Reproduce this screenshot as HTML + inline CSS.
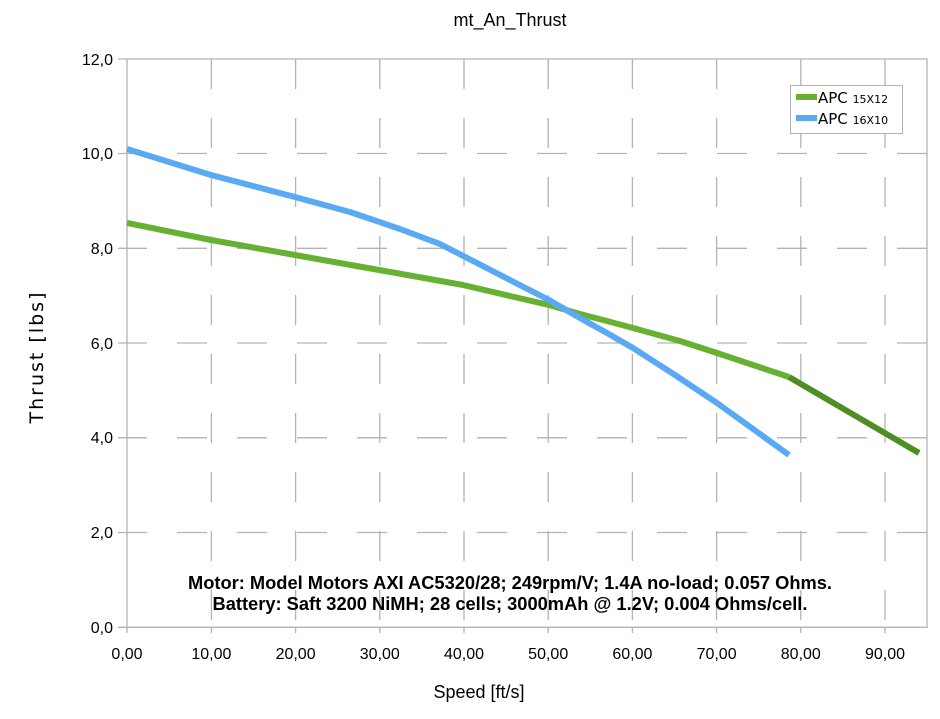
<!DOCTYPE html>
<html><head><style>body{margin:0;background:#fff}</style></head><body>
<svg width="940" height="714" xmlns="http://www.w3.org/2000/svg" font-family="Liberation Sans, sans-serif">
<rect width="940" height="714" fill="#fff"/>
<text x="510" y="26" font-size="18" text-anchor="middle">mt_An_Thrust</text>
<g stroke="#b3b3b3" stroke-width="1.3" fill="none">
<g stroke-dasharray="30 29">
<line x1="211.4" y1="59" x2="211.4" y2="627"/><line x1="295.6" y1="59" x2="295.6" y2="627"/>
<line x1="379.8" y1="59" x2="379.8" y2="627"/><line x1="464" y1="59" x2="464" y2="627"/>
<line x1="548.2" y1="59" x2="548.2" y2="627"/><line x1="632.4" y1="59" x2="632.4" y2="627"/>
<line x1="716.6" y1="59" x2="716.6" y2="627"/><line x1="800.8" y1="59" x2="800.8" y2="627"/>
<line x1="885" y1="59" x2="885" y2="627"/>
</g>
<g stroke-dasharray="30 30" stroke-dashoffset="10">
<line x1="127" y1="153.5" x2="927" y2="153.5"/><line x1="127" y1="248.3" x2="927" y2="248.3"/>
<line x1="127" y1="343" x2="927" y2="343"/><line x1="127" y1="437.8" x2="927" y2="437.8"/>
<line x1="127" y1="532.5" x2="927" y2="532.5"/>
</g>
<path d="M127 59H927V627.3H127Z"/>
<path d="M118 59H127M118 153.5H127M118 248.3H127M118 343H127M118 437.8H127M118 532.5H127M118 627.3H127"/>
<path d="M127 627V633M211.4 627V633M295.6 627V633M379.8 627V633M464 627V633M548.2 627V633M632.4 627V633M716.6 627V633M800.8 627V633M885 627V633"/>
</g>
<g font-size="16" text-anchor="end">
<text x="113" y="65">12,0</text><text x="113" y="159">10,0</text><text x="113" y="254">8,0</text>
<text x="113" y="349">6,0</text><text x="113" y="443">4,0</text><text x="113" y="538">2,0</text><text x="113" y="633">0,0</text>
</g>
<g font-size="16" text-anchor="middle">
<text x="127" y="659">0,00</text><text x="211.4" y="659">10,00</text><text x="295.6" y="659">20,00</text>
<text x="379.8" y="659">30,00</text><text x="464" y="659">40,00</text><text x="548.2" y="659">50,00</text>
<text x="632.4" y="659">60,00</text><text x="716.6" y="659">70,00</text><text x="800.8" y="659">80,00</text>
<text x="885" y="659">90,00</text>
</g>
<text x="479" y="698" font-size="18" text-anchor="middle">Speed [ft/s]</text>
<text transform="translate(43,357) rotate(-90)" font-size="19" letter-spacing="2" text-anchor="middle" font-family="DejaVu Sans, sans-serif">Thrust [lbs]</text>
<g fill="none" stroke-width="6" stroke-linejoin="round">
<polyline stroke="#66b032" points="127,223 211,240 295,255 379,270 463,285 510,296 549,305 580,314 607,321 633,328 680,341 717,353 789,377"/>
<polyline stroke="#4e8f24" points="789,377 919,453"/>
<polyline stroke="#5aa9f5" points="127,149 211,175 295,197 350,212 400,229 440,244 475,262 510,280 549,300 580,318 607,333 633,348 675,375 717,403 789,455"/>
</g>
<g font-size="18.3" font-weight="bold" text-anchor="middle">
<text x="510" y="589">Motor: Model Motors AXI AC5320/28; 249rpm/V; 1.4A no-load; 0.057 Ohms.</text>
<text x="510" y="610">Battery: Saft 3200 NiMH; 28 cells; 3000mAh @ 1.2V; 0.004 Ohms/cell.</text>
</g>
<rect x="790.5" y="85.5" width="112" height="48" fill="#fff" stroke="#b3b3b3"/>
<rect x="796" y="94" width="21" height="6" fill="#66b032"/>
<rect x="796" y="115" width="21" height="6" fill="#5aa9f5"/>
<text x="818" y="103" font-size="15" font-family="DejaVu Sans, sans-serif">APC <tspan font-size="11">15X12</tspan></text>
<text x="818" y="124" font-size="15" font-family="DejaVu Sans, sans-serif">APC <tspan font-size="11">16X10</tspan></text>
</svg>
</body></html>
